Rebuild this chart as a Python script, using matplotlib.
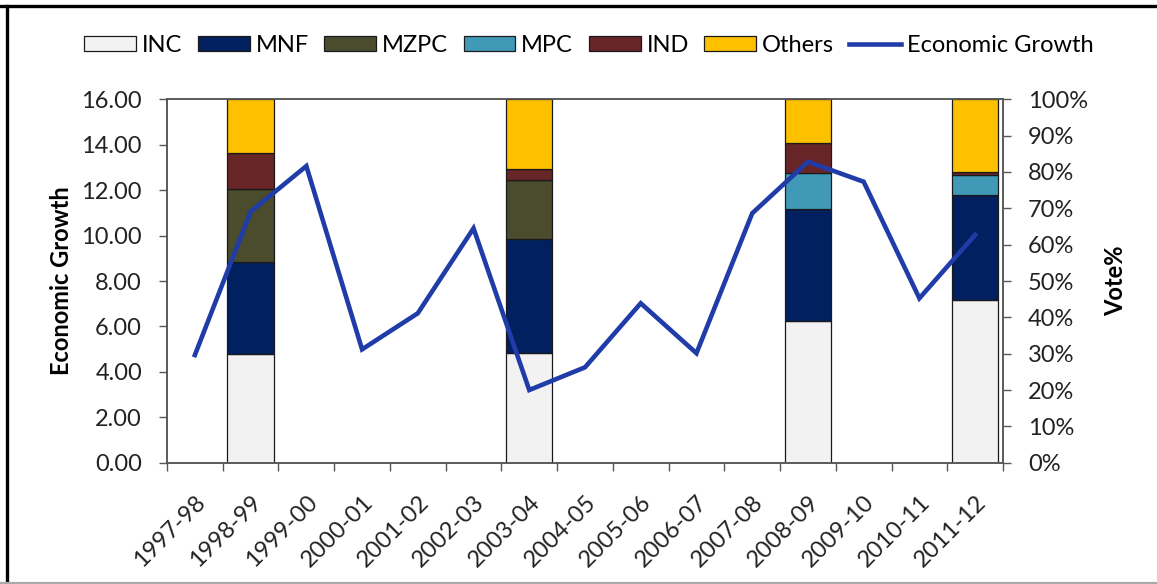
import numpy as np
import matplotlib
matplotlib.use("Agg")
import matplotlib.pyplot as plt
from matplotlib.lines import Line2D
from matplotlib.patches import Patch

plt.rcParams['font.family'] = ['Lato', 'DejaVu Sans']

categories = ['1997-98', '1998-99', '1999-00', '2000-01', '2001-02', '2002-03', '2003-04',
              '2004-05', '2005-06', '2006-07', '2007-08', '2008-09', '2009-10', '2010-11', '2011-12']
growth = [4.74, 11.05, 13.06, 4.99, 6.58, 10.32, 3.20, 4.20, 7.02, 4.82, 10.98, 13.25, 12.37, 7.24, 10.03]

election_years = ['1998-99', '2003-04', '2008-09', '2011-12']
inc = [29.8, 30.2, 38.9, 44.7]
mnf = [25.4, 31.4, 31.0, 28.9]
mzpc = [20.2, 16.2, 0.0, 0.0]
mpc = [0.0, 0.0, 9.7, 5.5]
ind = [9.7, 3.1, 8.3, 0.9]
others = [14.9, 19.1, 12.1, 20.0]

parties = ['INC', 'MNF', 'MZPC', 'MPC', 'IND', 'Others']
shares = [inc, mnf, mzpc, mpc, ind, others]
colors = ['#F2F2F2', '#002060', '#4B4B2E', '#4199B8', '#672527', '#FFC000']
line_color = '#1F3CA8'

W, H = 1157, 584
fig = plt.figure(figsize=(W / 100, H / 100), dpi=100)
fig.patch.set_facecolor('white')

left, right, top, bottom = 167, 1003, 99.3, 462.7
ax = fig.add_axes([left / W, (H - bottom) / H, (right - left) / W, (bottom - top) / H])
ax2 = ax.twinx()

xpos = [categories.index(y) for y in election_years]
base = np.zeros(len(election_years))
for name, vals, col in zip(parties, shares, colors):
    ax.bar(xpos, vals, width=0.83, bottom=base, color=col, edgecolor='#1a1a1a',
           linewidth=0.9, zorder=2)
    base += np.array(vals)

ax.set_xlim(-0.5, len(categories) - 0.5)
ax.set_ylim(0, 100)
ax.set_yticks(np.arange(0, 101, 10))
ax.set_yticklabels([f'{v}%' for v in range(0, 101, 10)])

ax2.plot(range(len(categories)), growth, color=line_color, lw=3.3, zorder=3,
         solid_joinstyle='miter')
ax2.set_ylim(0, 16)
ax2.set_yticks(np.arange(0, 17, 2))
ax2.set_yticklabels([f'{v:.2f}' for v in np.arange(0, 17, 2)])

# swap sides: bars axis on the right, growth axis on the left
ax.yaxis.tick_right()
ax.yaxis.set_label_position('right')
ax2.yaxis.tick_left()
ax2.yaxis.set_label_position('left')

ax.set_ylabel('Vote%', fontsize=17, fontweight='bold')
ax.yaxis.set_label_coords((1104 - left) / (right - left), 0.5)
ax2.set_ylabel('Economic Growth', fontsize=17, fontweight='bold')
ax2.yaxis.set_label_coords((73 - left) / (right - left), 0.5)

ax.set_xticks(range(len(categories)))
ax.set_xticklabels(categories, rotation=45, ha='right', rotation_mode='anchor', fontsize=17)
ax.set_xticks(np.arange(-0.5, len(categories), 1), minor=True)
ax.tick_params(axis='x', which='major', length=0, pad=21)
ax.tick_params(axis='x', which='minor', length=6, width=1, color='#555555', direction='out')
ax2.tick_params(axis='x', which='both', length=0)

ax.tick_params(axis='y', labelsize=17, length=6, width=1, color='#555555', pad=12,
               labelcolor='#222222', left=False, labelleft=False, right=True, labelright=True)
ax2.tick_params(axis='y', labelsize=17, length=6, width=1, color='#555555', pad=12,
                labelcolor='#222222', left=True, labelleft=True, right=False, labelright=False)
for lab in ax.get_xticklabels():
    lab.set_color('#222222')

for a in (ax, ax2):
    for s in a.spines.values():
        s.set_color('#555555')
        s.set_linewidth(1.1)

handles = [Patch(facecolor=c, edgecolor='#1a1a1a', linewidth=0.9) for c in colors]
handles.append(Line2D([0], [0], color=line_color, lw=3.3))
labels = parties + ['Economic Growth']
fig.legend(handles, labels, ncol=7, loc='center', bbox_to_anchor=(589 / W, 1 - 45 / H),
           frameon=False, fontsize=17, handlelength=2.2, handleheight=0.6,
           handletextpad=0.25, columnspacing=0.65, borderaxespad=0)

# page frame fragments
fig.add_artist(Line2D([0, 1], [1 - 5.5 / H, 1 - 5.5 / H], transform=fig.transFigure,
                      color='black', lw=2.4))
fig.add_artist(Line2D([6.5 / W, 6.5 / W], [0, 1 - 5.5 / H], transform=fig.transFigure,
                      color='black', lw=2.4))
fig.add_artist(Line2D([0, 1], [1.5 / H, 1.5 / H], transform=fig.transFigure,
                      color='#aaaaaa', lw=1.6))

fig.savefig('out.png', dpi=100)
